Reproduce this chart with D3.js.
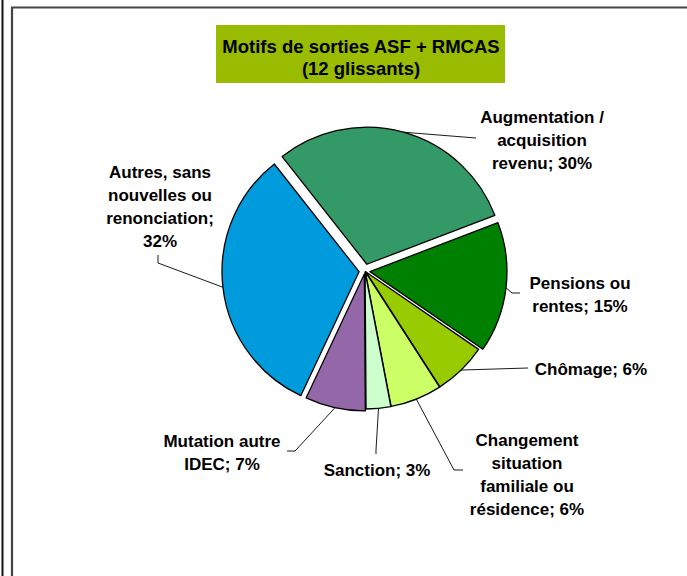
<!DOCTYPE html>
<html>
<head>
<meta charset="utf-8">
<script src="https://cdn.jsdelivr.net/npm/d3@7"></script>
<style>
  html, body { margin: 0; padding: 0; background: #fff; }
  svg { display: block; font-family: "Liberation Sans", Arial, sans-serif; }
</style>
</head>
<body>
<div id="vis"></div>
<script>
// ----------------
// 1. Data
// ----------------
const categories = [
    "Augmentation / acquisition revenu",
    "Pensions ou rentes",
    "Chômage",
    "Changement situation familiale ou résidence",
    "Sanction",
    "Mutation autre IDEC",
    "Autres, sans nouvelles ou renonciation"
];
const shares = [29.8, 15.4, 6.3, 6.1, 2.9, 7.1, 32.4];
// label text lines (percentage appended from shares)
const labelLines = [
    ["Augmentation /", "acquisition", "revenu; "],
    ["Pensions ou", "rentes; "],
    ["Chômage; "],
    ["Changement", "situation", "familiale ou", "résidence; "],
    ["Sanction; "],
    ["Mutation autre", "IDEC; "],
    ["Autres, sans", "nouvelles ou", "renonciation;", ""]
];
const colors = ["#339966", "#008000", "#99cc00", "#ccff66", "#ccffcc", "#9467a8", "#009bdd"];
const titleLines = ["Motifs de sorties ASF + RMCAS", "(12 glissants)"];

// ----------------
// 2. Dimensions / layout
// ----------------
const dimensions = {
    width: 687,
    height: 576,
    cx: 365,
    cy: 271,
    radius: 137,
    lineHeight: 22.8
};
// pull-out of each slice (px)
const explode = [7, 5, 1, 1, 1, 3, 6];
// label placement: centre x, first line centre y, leader elbow + end
const labelLayout = [
    {x: 542, y: 117, leader: [[476, 138]]},
    {x: 580, y: 283, leader: [[512, 293], [520, 293]]},
    {x: 591, y: 369, leader: [[528, 368]]},
    {x: 527, y: 440, leader: [[454, 470], [463, 470]]},
    {x: 377, y: 470, leader: [[376, 450], [376, 454]]},
    {x: 222, y: 441, leader: [[295, 451], [287, 451]]},
    {x: 160, y: 172, leader: [[158, 263], [158, 255]]}
];

const svg = d3.select("#vis")
    .append("svg")
    .attr("width", dimensions.width)
    .attr("height", dimensions.height);

// page frames
svg.append("line")
    .attr("x1", 2.5).attr("x2", 2.5)
    .attr("y1", 0).attr("y2", dimensions.height)
    .attr("stroke", "#111").attr("stroke-width", 2);
svg.append("path")
    .attr("d", `M12,${dimensions.height} V7.5 H${dimensions.width}`)
    .attr("fill", "none")
    .attr("stroke", "#444").attr("stroke-width", 2.2);

// ----------------
// 3. Title
// ----------------
svg.append("rect")
    .attr("x", 216).attr("y", 25)
    .attr("width", 289).attr("height", 58)
    .attr("fill", "#99bb00");
svg.append("text")
    .attr("text-anchor", "middle")
    .attr("font-weight", "bold")
    .attr("font-size", 18.5)
    .selectAll("tspan")
    .data(titleLines)
    .join("tspan")
    .attr("x", 361)
    .attr("y", (d, i) => 52.5 + i * 22)
    .text(d => d);

// ----------------
// 4. Pie
// ----------------
const data = categories.map((c, i) => ({name: c, value: shares[i], i: i}));
const total = d3.sum(shares);
const startAngle = -38.2 * Math.PI / 180;

const pie = d3.pie()
    .value(d => d.value)
    .sort(null)
    .startAngle(startAngle)
    .endAngle(startAngle + 2 * Math.PI);

const arcs = pie(data);
const arc = d3.arc().innerRadius(0).outerRadius(dimensions.radius);
const edgeArc = d3.arc().innerRadius(dimensions.radius).outerRadius(dimensions.radius);

const offset = (d, dist) => {
    const a = (d.startAngle + d.endAngle) / 2;
    return [Math.sin(a) * dist, -Math.cos(a) * dist];
};

const pieG = svg.append("g")
    .attr("transform", `translate(${dimensions.cx}, ${dimensions.cy})`);

pieG.selectAll("path")
    .data(arcs)
    .join("path")
    .attr("transform", d => {
        const [ox, oy] = offset(d, explode[d.data.i]);
        return `translate(${ox}, ${oy})`;
    })
    .attr("d", arc)
    .attr("fill", d => colors[d.data.i])
    .attr("stroke", "#000")
    .attr("stroke-width", 1.3)
    .attr("stroke-linejoin", "round");

// ----------------
// 5. Leader lines + labels
// ----------------
const line = d3.line();
svg.append("g")
    .selectAll("path")
    .data(arcs)
    .join("path")
    .attr("d", d => {
        const [ex, ey] = edgeArc.centroid(d);
        const [ox, oy] = offset(d, explode[d.data.i]);
        const start = [dimensions.cx + ex + ox, dimensions.cy + ey + oy];
        return line([start, ...labelLayout[d.data.i].leader]);
    })
    .attr("fill", "none")
    .attr("stroke", "#000")
    .attr("stroke-width", 0.9);

const labels = svg.append("g")
    .attr("font-weight", "bold")
    .attr("font-size", 17)
    .attr("text-anchor", "middle")
    .attr("fill", "#000");

arcs.forEach(d => {
    const i = d.data.i;
    const lay = labelLayout[i];
    const pct = Math.round(shares[i] / total * 100) + "%";
    const lines = labelLines[i].slice();
    lines[lines.length - 1] = lines[lines.length - 1] + pct;
    labels.append("text")
        .selectAll("tspan")
        .data(lines)
        .join("tspan")
        .attr("x", lay.x)
        .attr("y", (t, k) => lay.y + k * dimensions.lineHeight)
        .attr("dy", "0.36em")
        .text(t => t);
});
</script>
</body>
</html>
